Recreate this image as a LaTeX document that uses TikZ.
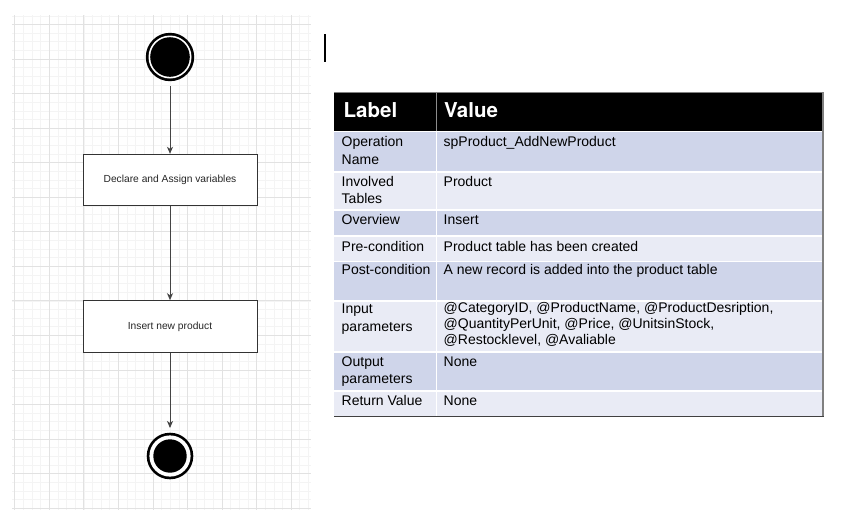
\documentclass[tikz,border=0pt]{standalone}
\usepackage{fontspec}
\setmainfont{Liberation Sans}
\newfontfamily\hdrfont{TeX Gyre Heros}
\usetikzlibrary{arrows.meta}
\definecolor{rowdark}{HTML}{CFD5EA}
\definecolor{rowlight}{HTML}{E9EBF5}
\definecolor{gridmajor}{HTML}{E2E2E2}
\definecolor{gridminor}{HTML}{F4F4F4}
\definecolor{linegray}{HTML}{444444}
\definecolor{boxline}{HTML}{333333}
\definecolor{tblborder}{HTML}{808080}
\newcommand{\cellrows}[1]{\begin{tabular}[t]{@{}l@{}}#1\end{tabular}}
\begin{document}
\begin{tikzpicture}[x=1pt,y=-1pt,
  box/.style={draw=boxline, line width=0.9pt, fill=white, minimum width=174pt, minimum height=51.5pt, inner sep=0pt, font=\fontsize{10.25}{12}\selectfont, text=black!85},
  conn/.style={draw=linegray, line width=1pt, -{Stealth[length=7pt,width=6pt,inset=2pt]}},
  lbl/.style={anchor=base west, inner sep=0pt, font=\fontsize{14}{17.5}\selectfont, text=black},
  val/.style={anchor=base west, inner sep=0pt, font=\fontsize{14}{16}\selectfont, text=black},
  hdr/.style={anchor=base west, inner sep=0pt, font=\hdrfont\bfseries\fontsize{20.5}{22}\selectfont, text=white}]
\useasboundingbox (0,0) rectangle (847,523);
\fill[white] (0,0) rectangle (847,523);
% grid
\foreach \i in {0,...,34} \draw[gridminor, line width=0.6pt] ({14.75+\i*8.6375},15) -- ({14.75+\i*8.6375},510);
\foreach \j in {0,...,57} \draw[gridminor, line width=0.6pt] (12,{15.8125+\j*8.6375}) -- (311,{15.8125+\j*8.6375});
\foreach \i in {0,...,8} \draw[gridmajor, line width=0.8pt] ({14.75+\i*34.55},15) -- ({14.75+\i*34.55},510);
\foreach \j in {0,...,14} \draw[gridmajor, line width=0.8pt] (12,{24.45+\j*34.55}) -- (311,{24.45+\j*34.55});
% activity diagram
\node[circle, fill=black, minimum size=48.4pt, inner sep=0pt] (start) at (170,57) {};
\fill[white] (start.center) circle (21.5pt);
\fill[black] (start.center) circle (19.8pt);
\node[box] (b1) at (170,180) {Declare and Assign variables};
\node[box] (b2) at (170,326.4) {Insert new product};
\node[circle, fill=black, minimum size=46.6pt, inner sep=0pt] (stop) at (170,456) {};
\fill[white] (stop.center) circle (20.6pt);
\fill[black] (stop.center) circle (16.7pt);
\draw[conn, shorten <=4.5pt] (start) -- (b1);
\draw[conn] (b1) -- (b2);
\draw[conn, shorten >=4.5pt] (b2) -- (stop);
% cursor
\draw[black, line width=1.2pt] (325,34) -- (325,62);
% table
\fill[black] (334,93) rectangle (823,131);
\fill[rowdark] (334,131) rectangle (823,171.7);
\fill[rowlight] (334,171.7) rectangle (823,210);
\fill[rowdark] (334,210) rectangle (823,236.2);
\fill[rowlight] (334,236.2) rectangle (823,261.5);
\fill[rowdark] (334,261.5) rectangle (823,300.7);
\fill[rowlight] (334,300.7) rectangle (823,352);
\fill[rowdark] (334,352) rectangle (823,390.7);
\fill[rowlight] (334,390.7) rectangle (823,416.5);
\foreach \yy in {131.6,171.7,210,236.2,261.5,300.7,352,390.7} \draw[white, line width=1.6pt] (334,\yy) -- (823,\yy);
\draw[white, line width=1.5pt] (436.5,131) -- (436.5,416.5);
\draw[black!45, line width=1.2pt] (436.5,93) -- (436.5,131);
\draw[tblborder, line width=1.2pt] (334,92.6) -- (823,92.6) -- (823,416.5);
\draw[black!75, line width=1.6pt] (334,416.5) -- (823.6,416.5);
\node[hdr] (hl) at (343.5,117.7) {Label};
\node[hdr] (hv) at (444,117.7) {Value};
\node[lbl] (l1) at (341.5,146.5) {\cellrows{Operation\\Name}};
\node[val] (v1) at (443.5,146) {spProduct\_AddNewProduct};
\node[lbl] (l2) at (341.5,186) {\cellrows{Involved\\Tables}};
\node[val] (v2) at (443.5,186) {Product};
\node[lbl] (l3) at (341.5,224) {Overview};
\node[val] (v3) at (443.5,224) {Insert};
\node[lbl] (l4) at (341.5,251.5) {Pre-condition};
\node[val] (v4) at (443.5,251.5) {Product table has been created};
\node[lbl] (l5) at (341.5,274.5) {Post-condition};
\node[val] (v5) at (443.5,274.5) {A new record is added into the product table};
\node[lbl] (l6) at (341.5,313.5) {\cellrows{Input\\parameters}};
\node[val] (v6) at (443.5,312.5) {\cellrows{@CategoryID, @ProductName, @ProductDesription,\\@QuantityPerUnit, @Price, @UnitsinStock,\\@Restocklevel, @Avaliable}};
\node[lbl] (l7) at (341.5,366) {\cellrows{Output\\parameters}};
\node[val] (v7) at (443.5,366) {None};
\node[lbl] (l8) at (341.5,405) {Return Value};
\node[val] (v8) at (443.5,405) {None};
\end{tikzpicture}
\end{document}
